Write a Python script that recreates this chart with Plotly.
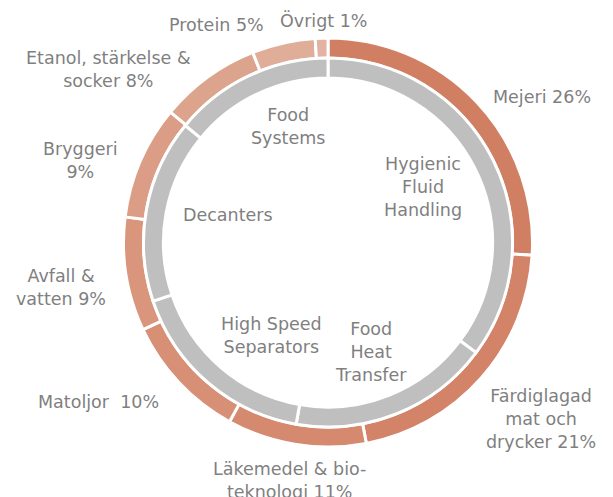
import plotly.graph_objects as go

# ---- data ----
industries = ["Mejeri", "Färdiglagad mat och drycker", "Läkemedel & bioteknologi",
              "Matoljor", "Avfall & vatten", "Bryggeri",
              "Etanol, stärkelse & socker", "Protein", "Övrigt"]
industry_share = [26, 21, 11, 10, 9, 9, 8, 5, 1]

divisions = ["Hygienic Fluid Handling", "Food Heat Transfer", "High Speed Separators",
             "Decanters", "Food Systems"]
division_share = [35, 17.5, 17, 16, 14]

# ---- styles ----
outer_colors = ["#D17F63", "#D38367", "#D5896E", "#D78F75", "#D9967C",
                "#DB9D85", "#DDA48D", "#E0AD99", "#E2B3A2"]
gray = "#BFBFBF"
text_color = "#7F7F7F"
FONT = "DejaVu Sans"
FS = 17.5

W, H = 613, 497

fig = go.Figure()
fig.add_trace(go.Pie(
    labels=industries, values=industry_share, sort=False, direction="clockwise",
    rotation=0, hole=0.902, textinfo="none", hoverinfo="label+percent",
    marker=dict(colors=outer_colors, line=dict(color="white", width=3)),
    domain=dict(x=[0.2015, 0.8687], y=[0.1006, 0.9235]), showlegend=False,
))
fig.add_trace(go.Pie(
    labels=divisions, values=division_share, sort=False, direction="clockwise",
    rotation=0, hole=0.892, textinfo="none", hoverinfo="label",
    marker=dict(colors=[gray] * len(divisions), line=dict(color="white", width=3)),
    domain=dict(x=[0.2341, 0.8361], y=[0.1408, 0.8833]), showlegend=False,
))

# label texts and pixel-centre positions
label_texts = [
    "Mejeri 26%", "Färdiglagad<br>mat och<br>drycker 21%",
    "Läkemedel &amp; bio-<br>teknologi 11%", "Matoljor&nbsp;&nbsp;10%",
    "Avfall &amp;<br>vatten 9%", "Bryggeri<br>9%",
    "Etanol, stärkelse &amp;<br>socker 8%", "Protein 5%", "Övrigt 1%",
    "Hygienic<br>Fluid<br>Handling", "Food<br>Heat<br>Transfer",
    "High Speed<br>Separators", "Decanters", "Food<br>Systems",
]
label_px = [
    (542, 97), (541, 419), (289, 480), (98, 402), (61, 287), (80, 160),
    (108, 69), (216, 25), (323, 21),
    (423, 187), (371, 352), (271, 335), (228, 215), (288, 126),
]

for t, (px, py) in zip(label_texts, label_px):
    fig.add_annotation(text=t, x=px / W, y=1 - py / H, xref="paper", yref="paper",
                       xanchor="center", yanchor="middle", showarrow=False,
                       align="center", font=dict(family=FONT, size=FS, color=text_color))

fig.update_layout(width=W, height=H, margin=dict(l=0, r=0, t=0, b=0),
                  paper_bgcolor="white", plot_bgcolor="white")
fig.write_html("out.html", config={"displayModeBar": False},
               post_script="document.body.style.margin='0';document.body.style.overflow='hidden';")
